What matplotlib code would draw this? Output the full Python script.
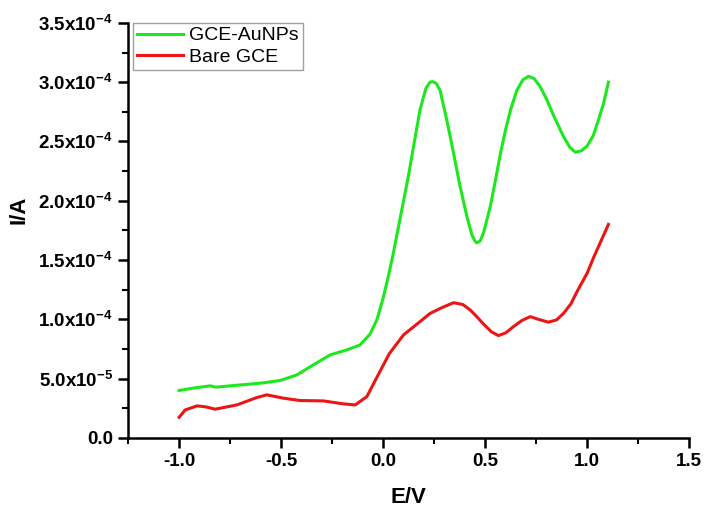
import numpy as np
import matplotlib
matplotlib.use("Agg")
import matplotlib.pyplot as plt
from matplotlib.ticker import MultipleLocator

plt.rcParams['font.family'] = ['Liberation Sans', 'DejaVu Sans']
plt.rcParams['mathtext.fontset'] = 'custom'
plt.rcParams['mathtext.rm'] = 'Liberation Sans:bold'
plt.rcParams['mathtext.default'] = 'rm'

# potential (V) and current (A)
E_aunp = [-1.0, -0.93, -0.848, -0.82, -0.717, -0.603, -0.505, -0.423, -0.342,
          -0.26, -0.178, -0.113, -0.064, -0.03, 0.0, 0.025, 0.05, 0.075, 0.1,
          0.125, 0.149, 0.181, 0.21, 0.23, 0.242, 0.26, 0.279, 0.312, 0.345,
          0.377, 0.41, 0.435, 0.45, 0.459, 0.475, 0.492, 0.525, 0.55, 0.575,
          0.6, 0.625, 0.655, 0.685, 0.712, 0.74, 0.77, 0.8, 0.835, 0.884, 0.915,
          0.941, 0.97, 0.999, 1.03, 1.055, 1.08, 1.104]
I_aunp = [4.0e-5, 4.2e-5, 4.39e-5, 4.28e-5, 4.44e-5, 4.61e-5, 4.84e-5, 5.31e-5,
          6.16e-5, 7.0e-5, 7.42e-5, 7.84e-5, 8.76e-5, 1.0e-4, 1.18e-4, 1.36e-4,
          1.56e-4, 1.78e-4, 2.0e-4, 2.22e-4, 2.46e-4, 2.77e-4, 2.95e-4, 3.0e-4,
          3.005e-4, 2.99e-4, 2.93e-4, 2.68e-4, 2.4e-4, 2.12e-4, 1.87e-4, 1.71e-4,
          1.66e-4, 1.645e-4, 1.66e-4, 1.73e-4, 1.95e-4, 2.17e-4, 2.4e-4, 2.6e-4,
          2.77e-4, 2.93e-4, 3.02e-4, 3.05e-4, 3.03e-4, 2.96e-4, 2.86e-4, 2.72e-4,
          2.54e-4, 2.45e-4, 2.41e-4, 2.42e-4, 2.46e-4, 2.55e-4, 2.68e-4, 2.82e-4,
          3.0e-4]

E_bare = [-1.0, -0.97, -0.913, -0.87, -0.824, -0.717, -0.62, -0.57, -0.489,
          -0.407, -0.293, -0.195, -0.137, -0.08, -0.031, 0.03, 0.1, 0.181,
          0.23, 0.29, 0.345, 0.39, 0.426, 0.46, 0.492, 0.53, 0.565, 0.6, 0.639,
          0.68, 0.721, 0.76, 0.81, 0.85, 0.884, 0.92, 0.949, 1.0, 1.031, 1.065,
          1.104]
I_bare = [1.74e-5, 2.36e-5, 2.7e-5, 2.62e-5, 2.42e-5, 2.78e-5, 3.4e-5, 3.63e-5,
          3.35e-5, 3.15e-5, 3.12e-5, 2.87e-5, 2.78e-5, 3.48e-5, 5.1e-5, 7.1e-5,
          8.69e-5, 9.81e-5, 1.05e-4, 1.1e-4, 1.14e-4, 1.125e-4, 1.08e-4,
          1.02e-4, 9.6e-5, 8.95e-5, 8.63e-5, 8.85e-5, 9.39e-5, 9.9e-5, 1.023e-4,
          1.0e-4, 9.76e-5, 9.95e-5, 1.05e-4, 1.13e-4, 1.23e-4, 1.39e-4, 1.52e-4,
          1.65e-4, 1.8e-4]

yticks = [0.0, 5.0e-5, 1.0e-4, 1.5e-4, 2.0e-4, 2.5e-4, 3.0e-4, 3.5e-4]
ytick_labels = ['0.0', r'5.0x10$^{-5}$', r'1.0x10$^{-4}$', r'1.5x10$^{-4}$',
                r'2.0x10$^{-4}$', r'2.5x10$^{-4}$', r'3.0x10$^{-4}$',
                r'3.5x10$^{-4}$']
xticks = [-1.0, -0.5, 0.0, 0.5, 1.0, 1.5]

fig = plt.figure(figsize=(7.04, 5.08), dpi=100)
ax = fig.add_axes([0.182, 0.138, 0.797, 0.817])

ax.plot(E_aunp, I_aunp, color='#1de81d', lw=2.2, label='GCE-AuNPs',
        solid_joinstyle='round')
ax.plot(E_bare, I_bare, color='#ec1515', lw=2.2, label='Bare GCE',
        solid_joinstyle='round')

ax.set_xlim(-1.25, 1.5)
ax.set_ylim(0, 3.5e-4)
ax.set_xticks(xticks)
ax.set_xticklabels(['%.1f' % v for v in xticks])
ax.set_yticks(yticks)
ax.set_yticklabels(ytick_labels)
ax.xaxis.set_minor_locator(MultipleLocator(0.25))
ax.yaxis.set_minor_locator(MultipleLocator(2.5e-5))

for s in ['top', 'right']:
    ax.spines[s].set_visible(False)
for s in ['left', 'bottom']:
    ax.spines[s].set_linewidth(1.8)
ax.tick_params(which='major', direction='out', length=7, width=1.8,
               labelsize=13.5, pad=4)
ax.tick_params(which='minor', direction='out', length=4, width=1.5)
for lab in ax.get_xticklabels() + ax.get_yticklabels():
    lab.set_fontweight('bold')

ax.set_xlabel('E/V', fontsize=16, fontweight='bold')
ax.set_ylabel('I/A', fontsize=16, fontweight='bold')
ax.xaxis.set_label_coords(0.5, -0.118)
ax.yaxis.set_label_coords(-0.175, 0.55)

leg = ax.legend(loc='upper left', bbox_to_anchor=(0.008, 1.0),
                borderaxespad=0, fontsize=14, frameon=True, fancybox=False,
                handlelength=2.4, handletextpad=0.3, labelspacing=0.2,
                borderpad=0.2)
leg.get_frame().set_edgecolor('#888888')
leg.get_frame().set_linewidth(1.0)

fig.savefig('out.png', dpi=100)
